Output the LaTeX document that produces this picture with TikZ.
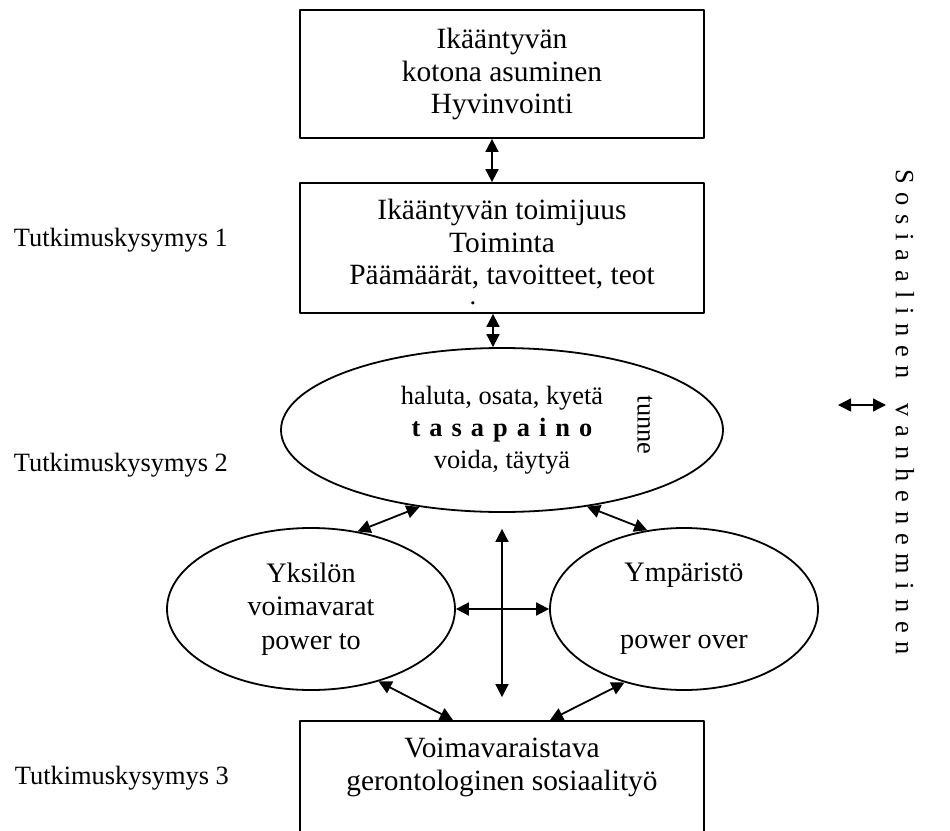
\documentclass[tikz,border=0pt]{standalone}
\usepackage{fontspec}
\setmainfont{Liberation Serif}
\usetikzlibrary{shapes.geometric,arrows.meta}
\begin{document}
\begin{tikzpicture}[x=0.5pt, y=-0.5pt, font=\fontsize{13.2}{16}\selectfont, line join=round, line width=0.9pt, >={Triangle[length=6.5pt,width=6.5pt]},
    laatikko/.style={draw, rectangle, minimum width=202pt, inner sep=0pt, align=center, font=\fontsize{14.7}{16.3}\selectfont},
    soikio/.style={draw, ellipse, inner sep=0pt, align=center},
    kysymys/.style={anchor=west, inner sep=0pt}]
            \clip (0,0) rectangle (950,831);
            \node[laatikko, minimum height=64pt] (koti) at (502,74) {Ikääntyvän\\kotona asuminen\\Hyvinvointi};
            \node[laatikko, minimum height=65pt] (toimijuus) at (502,248) {Ikääntyvän toimijuus\\Toiminta\\Päämäärät, tavoitteet, teot\rule[-6pt]{0pt}{6pt}};
            \node[inner sep=0pt] (piste) at (473,303) {.};
            \node[soikio, minimum width=221pt, minimum height=82pt] (tasapaino) at (502,430) {haluta, osata, kyetä\\{\bfseries\spaceskip=4.5pt t a s a p a i n o}\\voida, täytyä};
            \node[rotate=-90] (tunne) at (645,425) {tunne};
            \node[soikio, minimum width=144pt, minimum height=81pt, font=\fontsize{14.1}{16.8}\selectfont] (yksilo) at (311,609) {Yksilön\\voimavarat\\power to};
            \node[soikio, minimum width=134pt, minimum height=81pt, font=\fontsize{14.1}{16.8}\selectfont] (ymparisto) at (684,609) {Ympäristö\\~\\power over};
            \node[laatikko, minimum height=76pt] (sosiaalityo) at (502,797) {Voimavaraistava\\gerontologinen sosiaalityö\\~\\~};
            \node[kysymys] (tk1) at (13,240) {Tutkimuskysymys 1};
            \node[kysymys] (tk2) at (13,465) {Tutkimuskysymys 2};
            \node[kysymys] (tk3) at (14,778) {Tutkimuskysymys 3};
            \node[rotate=-90] (vanheneminen) at (905,412) {\spaceskip=4.4pt S o s i a a l i n e n\hspace{12.5pt}v a n h e n e m i n e n};
            \coordinate (va) at (838,405);
            \coordinate (vb) at (886,405);
            \draw[<->] ([xshift=-5pt]koti.south) -- ([xshift=-5pt]toimijuus.north);
            \draw[<->] ([xshift=-4.5pt]toimijuus.south) -- ([xshift=-4.5pt]tasapaino.north);
            \draw[<->] (yksilo.59) -- (tasapaino.223);
            \draw[<->] (tasapaino.318) -- (ymparisto.115);
            \draw[<->] ([yshift=-8pt]tasapaino.south) -- ([yshift=11.5pt]sosiaalityo.north);
            \draw[<->] (yksilo.east) -- (ymparisto.west);
            \draw[<->] (yksilo.313) -- ([xshift=-24.5pt]sosiaalityo.north);
            \draw[<->] (ymparisto.231) -- ([xshift=24pt]sosiaalityo.north);
            \draw[<->, line width=0.7pt] (va) -- (vb);
    \end{tikzpicture}
\end{document}
